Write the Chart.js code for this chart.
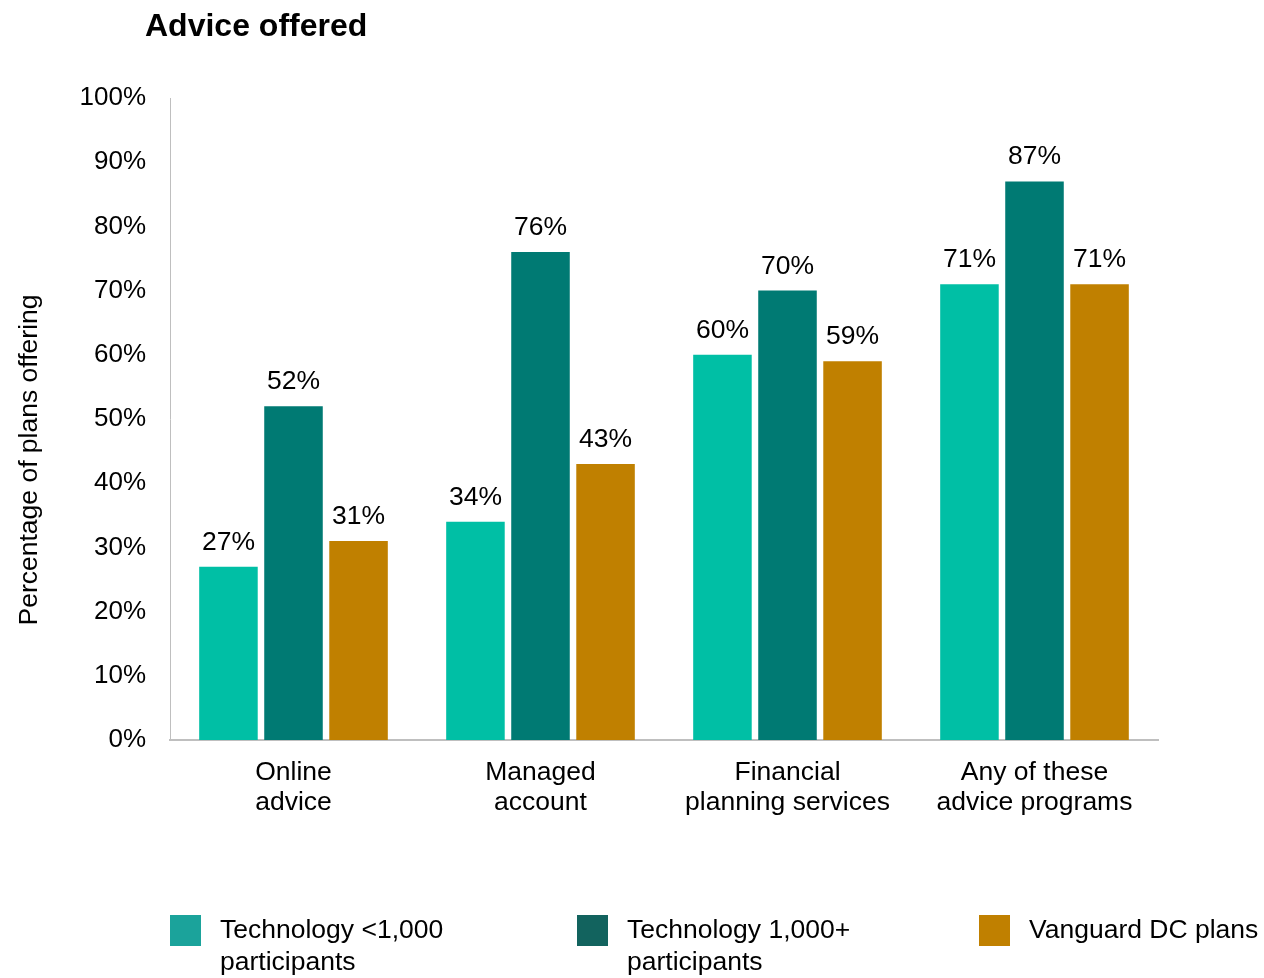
<!DOCTYPE html>
<html>
<head>
<meta charset="utf-8">
<script src="https://cdn.jsdelivr.net/npm/chart.js@4.4.1/dist/chart.umd.min.js"></script>
<style>
  html, body { margin: 0; padding: 0; background: #fff; }
  #wrap { width: 1264px; height: 978px; position: relative; }
</style>
</head>
<body>
<div id="wrap"><canvas id="chartAdvice"></canvas></div>
<script>
'use strict';

// Données
const categories = [['Online', 'advice'], ['Managed', 'account'], ['Financial', 'planning services'], ['Any of these', 'advice programs']];
const seriesNames = [['Technology <1,000', 'participants'], ['Technology 1,000+', 'participants'], ['Vanguard DC plans']];
const techSmall = [27, 34, 60, 71];
const techLarge = [52, 76, 70, 87];
const vanguardDC = [31, 43, 59, 71];
const yTicks = [0, 10, 20, 30, 40, 50, 60, 70, 80, 90, 100];

const barColors = ['#00BFA5', '#007A73', '#C08000'];
const legendColors = ['#1BA39B', '#12635E', '#C08000'];
const FONT = "'Liberation Sans', Arial, sans-serif";

Chart.defaults.font.family = FONT;
Chart.defaults.color = '#000';

/* Titre, titre de l'axe Y, étiquettes de valeurs et légende */
const decorPlugin = {
    id: 'decor',
    afterDatasetsDraw(chart) {
        const ctx = chart.ctx;
        ctx.save();
        ctx.fillStyle = '#000';

        // valeurs au-dessus des barres
        ctx.font = '26.5px ' + FONT;
        ctx.textAlign = 'center';
        ctx.textBaseline = 'alphabetic';
        chart.data.datasets.forEach((ds, i) => {
            chart.getDatasetMeta(i).data.forEach((bar, j) => {
                ctx.fillText(ds.data[j] + '%', bar.x, bar.y - 17);
            });
        });

        // titre
        ctx.font = 'bold 32px ' + FONT;
        ctx.textAlign = 'left';
        ctx.fillText('Advice offered', 145, 36);

        // titre axe Y
        ctx.save();
        ctx.font = '26.5px ' + FONT;
        ctx.translate(37, 460);
        ctx.rotate(-Math.PI / 2);
        ctx.textAlign = 'center';
        ctx.fillText('Percentage of plans offering', 0, 0);
        ctx.restore();

        // légende
        const legendX = [170, 577, 979];
        ctx.font = '26.5px ' + FONT;
        ctx.textAlign = 'left';
        ctx.textBaseline = 'middle';
        seriesNames.forEach((lines, i) => {
            ctx.fillStyle = legendColors[i];
            ctx.fillRect(legendX[i], 915, 31, 31);
            ctx.fillStyle = '#000';
            lines.forEach((line, k) => {
                ctx.fillText(line, legendX[i] + 50, 931 + k * 32);
            });
        });
        ctx.restore();
    }
};

new Chart(document.getElementById('chartAdvice'), {
    type: 'bar',
    data: {
        labels: categories,
        datasets: [
            { label: seriesNames[0].join(' '), data: techSmall, backgroundColor: barColors[0] },
            { label: seriesNames[1].join(' '), data: techLarge, backgroundColor: barColors[1] },
            { label: seriesNames[2].join(' '), data: vanguardDC, backgroundColor: barColors[2] }
        ]
    },
    options: {
        responsive: true,
        maintainAspectRatio: false,
        animation: false,
        categoryPercentage: 0.79,
        barPercentage: 0.9,
        layout: { padding: { top: 98, right: 106, bottom: 138, left: 0 } },
        plugins: {
            legend: { display: false },
            title: { display: false },
            tooltip: { enabled: false }
        },
        scales: {
            x: {
                grid: { display: false, drawTicks: false },
                border: { display: true, color: '#BFBFBF', width: 2 },
                ticks: {
                    color: '#000',
                    padding: 17,
                    font: { size: 26.5, lineHeight: 1.15 },
                    maxRotation: 0,
                    autoSkip: false
                },
                afterFit(scale) { scale.height = 100; }
            },
            y: {
                min: 0,
                max: 100,
                grid: { display: false, drawTicks: false },
                border: { display: true, color: '#BFBFBF', width: 1 },
                afterBuildTicks(scale) {
                    scale.ticks = yTicks.map(v => ({ value: v }));
                },
                ticks: {
                    color: '#000',
                    padding: 24,
                    font: { size: 26 },
                    callback: v => v + '%'
                },
                afterFit(scale) { scale.width = 170; }
            }
        }
    },
    plugins: [decorPlugin]
});
</script>
</body>
</html>
